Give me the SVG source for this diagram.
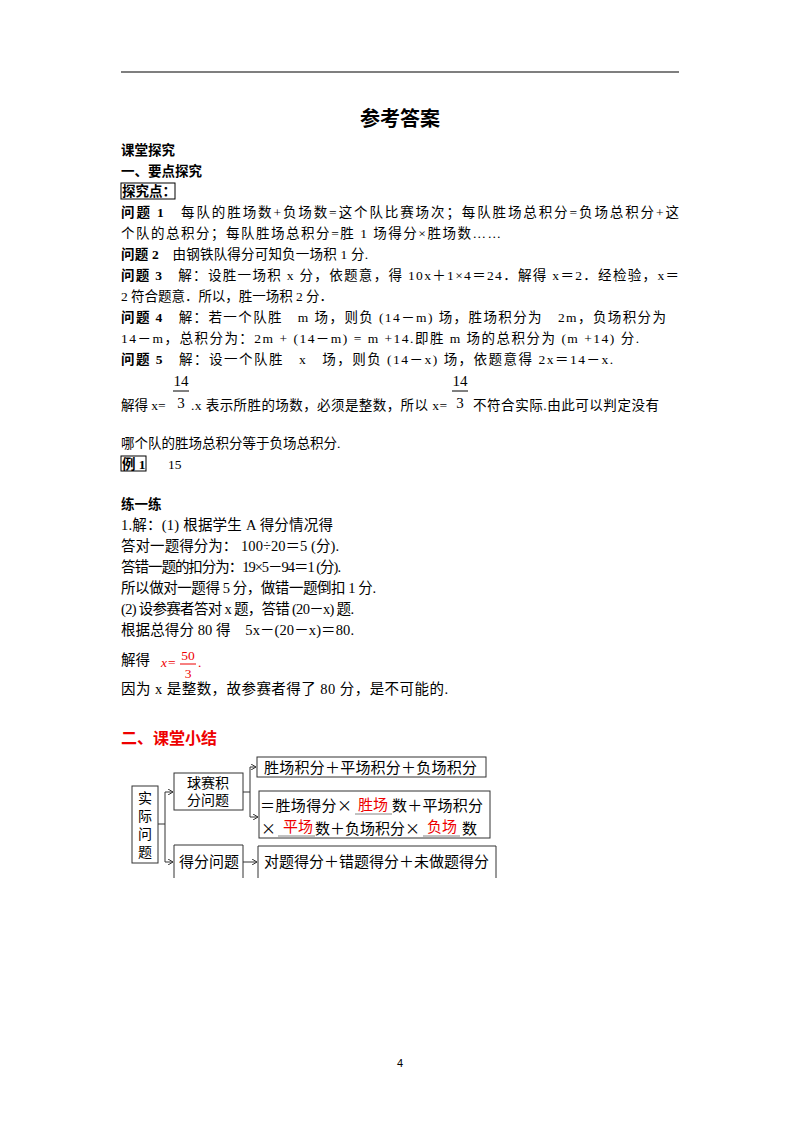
<svg xmlns="http://www.w3.org/2000/svg" width="800" height="1132" viewBox="0 0 800 1132">
<style>
text{font-family:"Liberation Serif","Noto Sans CJK SC",serif;font-size:13.5px;fill:#000}
.b{font-weight:bold}
.h{font-family:"Noto Sans CJK SC",sans-serif;font-weight:bold}
.p{font-size:14.5px}
.d{font-family:"Noto Sans CJK SC",sans-serif;font-size:15px}
.s{font-family:"Noto Sans CJK SC",sans-serif;font-size:14px}
.r{fill:#e00}
.bx{fill:#fff;stroke:#333;stroke-width:1}
.ln{fill:none;stroke:#333;stroke-width:1}
</style>
<defs><marker id="a" markerWidth="6" markerHeight="6" refX="5" refY="3" orient="auto"><path d="M0,0 L5,3 L0,6" fill="none" stroke="#333"/></marker></defs>
<rect width="800" height="1132" fill="#fff"/>
<line x1="121" y1="72" x2="679" y2="72" stroke="#000" stroke-width="1.2"/>
<text x="400" y="126" text-anchor="middle" class="h" style="font-size:20px">参考答案</text>
<text x="121" y="155" class="h">课堂探究</text>
<text x="121" y="176" class="h">一、要点探究</text>
<rect x="121" y="183" width="54" height="16" fill="none" stroke="#000"/>
<text x="122" y="196" class="h">探究点：</text>
<text x="121" y="217" textLength="558"><tspan class="b">问题 1</tspan>　每队的胜场数+负场数=这个队比赛场次；每队胜场总积分=负场总积分+这</text>
<text x="121" y="238" textLength="380">个队的总积分；每队胜场总积分=胜 1 场得分×胜场数……</text>
<text x="121" y="259" textLength="247"><tspan class="b">问题 2</tspan>　由钢铁队得分可知负一场积 1 分.</text>
<text x="121" y="280" textLength="558"><tspan class="b">问题 3</tspan>　解：设胜一场积 x 分，依题意，得 10x＋1×4＝24．解得 x＝2．经检验，x＝</text>
<text x="121" y="301" textLength="212">2 符合题意．所以，胜一场积 2 分．</text>
<text x="121" y="322" textLength="545"><tspan class="b">问题 4</tspan>　解：若一个队胜　m 场，则负 (14－m) 场，胜场积分为　2m，负场积分为</text>
<text x="121" y="343" textLength="518">14－m，总积分为：2m + (14－m) = m +14.即胜 m 场的总积分为 (m +14) 分.</text>
<text x="121" y="364" textLength="492"><tspan class="b">问题 5</tspan>　解：设一个队胜　x　场，则负 (14－x) 场，依题意得 2x＝14－x.</text>
<text x="181" y="386" text-anchor="middle" style="font-size:15px">14</text>
<line x1="173" y1="391" x2="189" y2="391" stroke="#000"/>
<text x="181" y="408" text-anchor="middle" style="font-size:15px">3</text>
<text x="460" y="386" text-anchor="middle" style="font-size:15px">14</text>
<line x1="452" y1="391" x2="468" y2="391" stroke="#000"/>
<text x="460" y="408" text-anchor="middle" style="font-size:15px">3</text>
<text x="121" y="410">解得 x=</text>
<text x="191" y="410" textLength="256">.x 表示所胜的场数，必须是整数，所以 x=</text>
<text x="473" y="410" textLength="186">不符合实际.由此可以判定没有</text>
<text x="121" y="448">哪个队的胜场总积分等于负场总积分.</text>
<rect x="121" y="456" width="25" height="15" fill="none" stroke="#000"/>
<text x="122" y="469" class="b">例 1</text>
<text x="168" y="469">15</text>
<text x="121" y="509" class="h">练一练</text>
<text x="121" y="530" class="p" textLength="212">1.解：(1) 根据学生 A 得分情况得</text>
<text x="121" y="551" class="p" textLength="218">答对一题得分为：  100÷20＝5 (分).</text>
<text x="121" y="572" class="p" textLength="220">答错一题的扣分为：19×5－94＝1 (分).</text>
<text x="121" y="593" class="p" textLength="255">所以做对一题得 5 分，做错一题倒扣 1 分.</text>
<text x="121" y="614" class="p" textLength="233">(2) 设参赛者答对 x 题，答错 (20－x) 题.</text>
<text x="121" y="635" class="p" textLength="233">根据总得分 80 得　5x－(20－x)＝80.</text>
<text x="121" y="665" class="p">解得</text>
<text x="161" y="667" class="r" style="font-style:italic">x</text>
<text x="168" y="667" class="r">=</text>
<text x="188" y="660" class="r" text-anchor="middle">50</text>
<line x1="180" y1="664" x2="196" y2="664" stroke="#e00"/>
<text x="188" y="678" class="r" text-anchor="middle">3</text>
<text x="198" y="667" class="r">.</text>
<text x="121" y="694" class="p" textLength="327">因为 x 是整数，故参赛者得了 80 分，是不可能的.</text>
<text x="121" y="744" class="h r" style="font-size:16px">二、课堂小结</text>
<g id="connectors">
<path class="ln" d="M158,824 H165 M165,792 V862"/>
<path class="ln" d="M165,792 H173" marker-end="url(#a)"/>
<path class="ln" d="M165,862 H173" marker-end="url(#a)"/>
<path class="ln" d="M243,792 H250 M250,767 V817"/>
<path class="ln" d="M250,767 H256" marker-end="url(#a)"/>
<path class="ln" d="M250,817 H258" marker-end="url(#a)"/>
<path class="ln" d="M243,862 H257" marker-end="url(#a)"/>
</g>
<g id="n-shiji"><rect class="bx" x="132" y="786" width="26" height="77"/>
<text class="s" x="145" y="803" text-anchor="middle">实</text><text class="s" x="145" y="821" text-anchor="middle">际</text><text class="s" x="145" y="839" text-anchor="middle">问</text><text class="s" x="145" y="857" text-anchor="middle">题</text></g>
<g id="n-qiusai"><rect class="bx" x="174" y="773" width="69" height="37"/>
<text class="s" x="208" y="788" text-anchor="middle">球赛积</text><text class="s" x="208" y="805" text-anchor="middle">分问题</text></g>
<g id="n-defen"><path class="bx" d="M174,878 V845 H243 V878"/>
<text class="d" x="209" y="867" text-anchor="middle">得分问题</text></g>
<g id="n-box1"><rect class="bx" x="257" y="757" width="229" height="20"/>
<text class="d" x="264" y="773" textLength="213">胜场积分＋平场积分＋负场积分</text></g>
<g id="n-box2"><rect class="bx" x="259" y="791" width="231" height="47"/>
<text class="d" x="260" y="811" textLength="92">＝胜场得分×</text>
<text class="d r" x="358" y="810">胜场</text>
<text class="d" x="392" y="811" textLength="91">数＋平场积分</text>
<text class="d" x="261" y="834">×</text>
<text class="d r" x="283" y="832">平场</text>
<text class="d" x="315" y="834" textLength="105">数＋负场积分×</text>
<text class="d r" x="427" y="832">负场</text>
<text class="d" x="462" y="834">数</text>
<path d="M355,814 H392 M278,836 H315 M423,836 H460" stroke="#666" stroke-width="0.8"/></g>
<g id="n-box3"><path class="bx" d="M258,878 V846 H496 V878"/>
<text class="d" x="264" y="867" textLength="225">对题得分＋错题得分＋未做题得分</text></g>
<text x="400" y="1067" text-anchor="middle" style="font-family:'Liberation Sans',sans-serif;font-size:11px">4</text>
</svg>
